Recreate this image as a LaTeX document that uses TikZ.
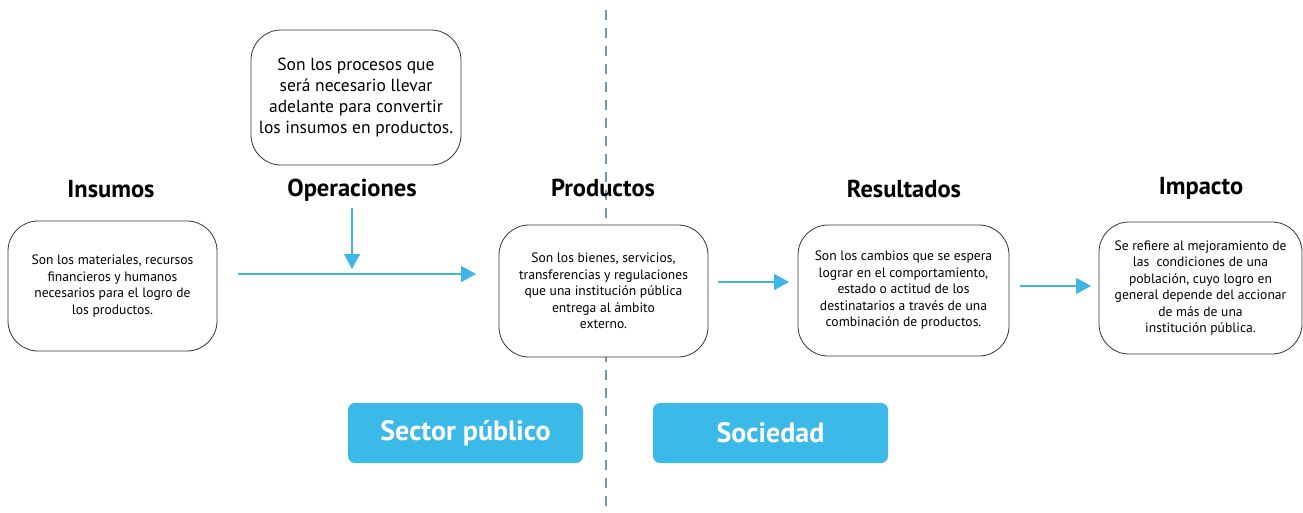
\documentclass[tikz,border=0pt]{standalone}
\usepackage{fontspec}
\setmainfont{PT Sans}
\usetikzlibrary{arrows.meta}
\definecolor{cyanb}{HTML}{3BB9E9}
\definecolor{arrowc}{HTML}{3DB5E6}
\definecolor{dashc}{HTML}{6A9CB4}
\tikzset{
  x=1pt,y=-1pt,
  descbox/.style={draw=black!80,line width=0.8pt,rounded corners=30pt,fill=white,align=center,inner sep=0pt},
  head/.style={font=\fontsize{24.5}{28}\selectfont\bfseries},
  tag/.style={fill=cyanb,rounded corners=7pt,text=white,font=\fontsize{28}{32}\selectfont\bfseries,inner sep=0pt},
  flow/.style={draw=arrowc,line width=1.6pt,-{Triangle[length=15pt,width=16pt]}},
  small/.style={font=\fontsize{13.6}{16.5}\selectfont},
}
\begin{document}
\begin{tikzpicture}
\useasboundingbox (0,0) rectangle (1303,512);
\draw[dashc,line width=1.6pt,dash pattern=on 10pt off 8pt] (606,10) -- (606,512);
% boxes
\node[descbox,small,minimum width=209pt,minimum height=130pt] (ins) at (112.5,286) {Son los materiales, recursos\\financieros y humanos\\necesarios para el logro de\\los productos.};
\node[descbox,minimum width=210pt,minimum height=135pt,font=\fontsize{17.5}{21}\selectfont] (ope) at (356,97.5) {Son los procesos que\\será necesario llevar\\adelante para convertir\\los insumos en productos.};
\node[descbox,small,minimum width=209pt,minimum height=132pt] (pro) at (603.5,291) {Son los bienes, servicios,\\transferencias y regulaciones\\que una institución pública\\entrega al ámbito\\externo.};
\node[descbox,small,minimum width=211pt,minimum height=131pt] (res) at (903.5,290.5) {Son los cambios que se espera\\lograr en el comportamiento,\\estado o actitud de los\\destinatarios a través de una\\combinación de productos.};
\node[descbox,small,minimum width=203pt,minimum height=132pt] (imp) at (1200.5,288) {Se refiere al mejoramiento de\\las\ \ condiciones de una\\población, cuyo logro en\\general depende del accionar\\de más de una\\institución pública.};
% headings
\node[head] (hins) at (111,189) {Insumos};
\node[head] (hope) at (352,190) {Operaciones};
\node[head] (hpro) at (603,188) {Productos};
\node[head] (hres) at (904,189) {Resultados};
\node[head] (himp) at (1201,188) {Impacto};
% arrows
\coordinate (a1) at (238,274);
\coordinate (a2) at (476,274);
\coordinate (o1) at (352,208);
\coordinate (o2) at (352,269);
\coordinate (p1) at (718,282);
\coordinate (p2) at (789,282);
\coordinate (r1) at (1020,286);
\coordinate (r2) at (1091,286);
\draw[flow] (a1) -- (a2);
\draw[flow] (o1) -- (o2);
\draw[flow] (p1) -- (p2);
\draw[flow] (r1) -- (r2);
% tags
\node[tag,minimum width=235pt,minimum height=60pt] (sp) at (465.5,433) {Sector público};
\node[tag,minimum width=235pt,minimum height=60pt] (so) at (770.5,433) {Sociedad};
\end{tikzpicture}
\end{document}
